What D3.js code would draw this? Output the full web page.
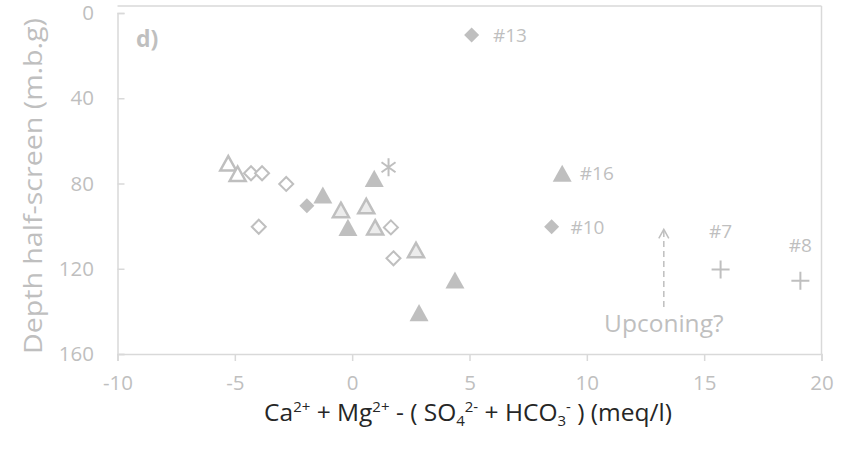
<!DOCTYPE html>
<html><head><meta charset="utf-8">
<script src="https://cdn.jsdelivr.net/npm/d3@7"></script>
<style>body{margin:0;background:#fff}svg{display:block}text{font-family:"Open Sans",sans-serif}</style>
</head><body>
<script>
const xTicks = [-10, -5, 0, 5, 10, 15, 20];
const yTicks = [0, 40, 80, 120, 160];
const openTriX = [-5.28, -4.88];
const openTriY = [70.5, 75.4];
const lightTriX = [-0.48, 0.6, 0.98, 2.72];
const lightTriY = [92.4, 90.6, 100.6, 111.2];
const filledTriX = [-1.25, -0.18, 0.94, 2.85, 4.38, 8.95];
const filledTriY = [85.4, 100.6, 77.6, 140.6, 125.3, 75.2];
const openDiaX = [-4.31, -3.84, -2.81, -3.98, 1.65, 1.76];
const openDiaY = [75.2, 75.2, 80.2, 100.3, 100.6, 115.1];
const filledDiaX = [-1.93, 5.09, 8.5];
const filledDiaY = [90.4, 10.3, 100.3];
const starX = [1.55];
const starY = [72.4];
const plusX = [15.7, 19.1];
const plusY = [120.3, 125.6];
const labelText = ["#13", "#16", "#10", "#7", "#8"];
const labelX = [6.0, 9.7, 9.3, 15.7, 19.1];
const labelY = [10.3, 75.2, 100.3, 102.5, 109.0];

const W = 845, H = 456, grey = "#bfbfbf";
const svg = d3.select("body").append("svg").attr("width", W).attr("height", H);
const x = d3.scaleLinear().domain([-10, 20]).range([117.5, 821.5]);
const y = d3.scaleLinear().domain([0, 160]).range([13, 354]);

// frame lines
svg.append("line").attr("x1", x(-10)).attr("x2", x(20)).attr("y1", 6).attr("y2", 6).attr("stroke", "#d9d9d9").attr("stroke-width", 1.5);
svg.append("line").attr("x1", x(20)).attr("x2", x(20)).attr("y1", 6).attr("y2", y(160)).attr("stroke", "#d9d9d9").attr("stroke-width", 1.5);

const xAxis = svg.append("g").attr("transform", `translate(0,${y(160)})`)
  .call(d3.axisBottom(x).tickValues(xTicks).tickSize(7).tickPadding(14).tickFormat(d3.format("d")));
const yAxis = svg.append("g").attr("transform", `translate(${x(-10)},0)`)
  .call(d3.axisLeft(y).tickValues(yTicks).tickSize(-7).tickPadding(23.5));
[xAxis, yAxis].forEach(g => {
  g.select(".domain").attr("stroke", "#d9d9d9").attr("stroke-width", 1.5);
  g.selectAll(".tick line").attr("stroke", "#d9d9d9").attr("stroke-width", 1.5);
  g.selectAll(".tick text").attr("fill", grey).attr("font-size", 20.5).attr("font-family", "Open Sans");
});
xAxis.selectAll(".tick text").text(d => d < 0 ? "-" + Math.abs(d) : d);

// axis titles
svg.append("text").attr("transform", `translate(42,${186}) rotate(-90)`)
  .attr("text-anchor", "middle").attr("fill", grey).attr("font-size", 25)
  .attr("textLength", 336).attr("lengthAdjust", "spacingAndGlyphs").text("Depth half-screen (m.b.g)");
const xt = svg.append("text").attr("x", 468).attr("y", 421).attr("text-anchor", "middle").attr("fill", "#262626").attr("font-size", 24.5);
const sup = 15;
xt.append("tspan").text("Ca");
xt.append("tspan").attr("dy", -9).attr("font-size", sup).text("2+");
xt.append("tspan").attr("dy", 9).text(" + Mg");
xt.append("tspan").attr("dy", -9).attr("font-size", sup).text("2+");
xt.append("tspan").attr("dy", 9).text(" - ( SO");
xt.append("tspan").attr("dy", 5).attr("font-size", sup).text("4");
xt.append("tspan").attr("dy", -14).attr("font-size", sup).text("2-");
xt.append("tspan").attr("dy", 9).text(" + HCO");
xt.append("tspan").attr("dy", 5).attr("font-size", sup).text("3");
xt.append("tspan").attr("dy", -14).attr("font-size", sup).text("-");
xt.append("tspan").attr("dy", 9).text(" ) (meq/l)");

svg.append("text").attr("x", 136).attr("y", 47).attr("fill", grey).attr("font-size", 23).attr("font-weight", "bold").text("d)");

const zip = (a, b) => a.map((v, i) => [v, b[i]]);
function triPath(s) { // triangle with bbox centered on origin
  const h = s * 0.9, w = s;
  return `M0,${-h/2}L${w/2},${h/2}L${-w/2},${h/2}Z`;
}
function diaPath(s) { return `M0,${-s/2}L${s/2},0L0,${s/2}L${-s/2},0Z`; }

const marks = svg.append("g");
marks.selectAll(".od").data(zip(openDiaX, openDiaY)).join("path")
  .attr("transform", d => `translate(${x(d[0])},${y(d[1])})`).attr("d", diaPath(14))
  .attr("fill", "#fff").attr("stroke", grey).attr("stroke-width", 2);
marks.selectAll(".ot").data(zip(openTriX, openTriY)).join("path")
  .attr("transform", d => `translate(${x(d[0])},${y(d[1])})`).attr("d", triPath(16))
  .attr("fill", "#fff").attr("stroke", grey).attr("stroke-width", 2.5);
marks.selectAll(".fd").data(zip(filledDiaX, filledDiaY)).join("path")
  .attr("transform", d => `translate(${x(d[0])},${y(d[1])})`).attr("d", diaPath(15))
  .attr("fill", grey);
marks.selectAll(".ft").data(zip(filledTriX, filledTriY)).join("path")
  .attr("transform", d => `translate(${x(d[0])},${y(d[1])})`).attr("d", triPath(19))
  .attr("fill", grey);
marks.selectAll(".lt").data(zip(lightTriX, lightTriY)).join("path")
  .attr("transform", d => `translate(${x(d[0])},${y(d[1])})`).attr("d", triPath(16))
  .attr("fill", "#ececec").attr("stroke", grey).attr("stroke-width", 2.5);
marks.selectAll(".st").data(zip(starX, starY)).join("path")
  .attr("transform", d => `translate(${x(d[0])},${y(d[1])})`)
  .attr("d", "M0,-9V9M-7,-5L7,5M-7,5L7,-5").attr("fill", "none").attr("stroke", grey).attr("stroke-width", 2);
marks.selectAll(".pl").data(zip(plusX, plusY)).join("path")
  .attr("transform", d => `translate(${x(d[0])},${y(d[1])})`)
  .attr("d", "M0,-9V9M-9,0H9").attr("fill", "none").attr("stroke", grey).attr("stroke-width", 2);

svg.selectAll(".lbl").data(labelText).join("text")
  .attr("x", (d, i) => x(labelX[i])).attr("y", (d, i) => y(labelY[i]) + 7)
  .attr("text-anchor", (d, i) => i >= 3 ? "middle" : "start")
  .attr("fill", grey).attr("font-size", 19).text(d => d);

// upconing arrow
const ax = x(13.28);
svg.append("line").attr("x1", ax).attr("x2", ax).attr("y1", y(138)).attr("y2", y(101.5))
  .attr("stroke", grey).attr("stroke-width", 1.5).attr("stroke-dasharray", "6,4");
svg.append("path").attr("d", `M${ax - 5},${y(101.5) + 9}L${ax},${y(101.5)}L${ax + 5},${y(101.5) + 9}`)
  .attr("fill", "none").attr("stroke", grey).attr("stroke-width", 1.5);
svg.append("text").attr("x", ax).attr("y", 332).attr("text-anchor", "middle")
  .attr("fill", grey).attr("font-size", 24.5).text("Upconing?");
</script>
</body></html>
